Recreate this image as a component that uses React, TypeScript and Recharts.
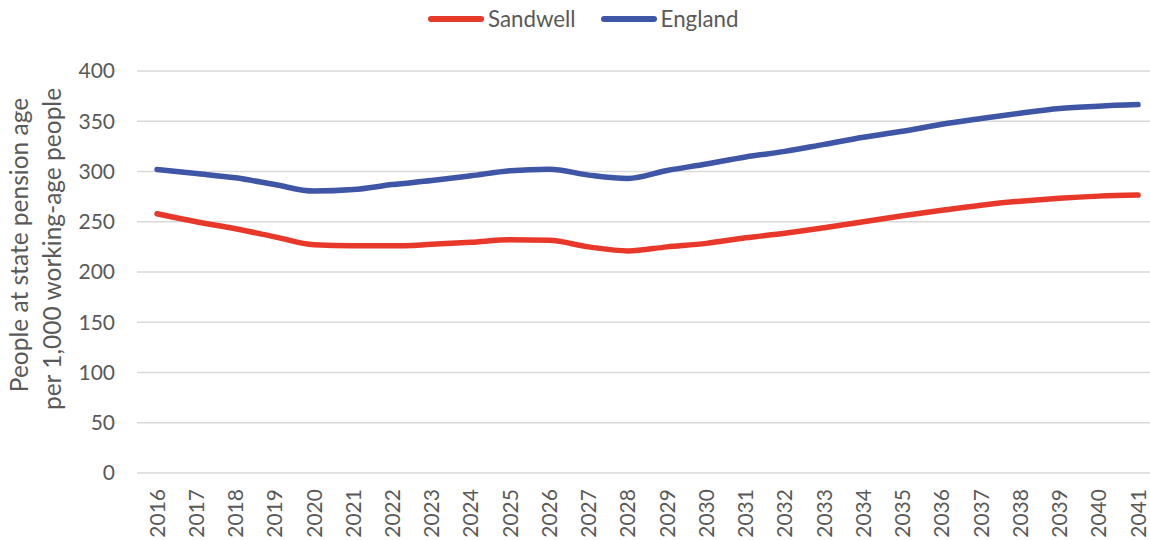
import { LineChart, Line, CartesianGrid, XAxis, YAxis } from "recharts"

const years = [
  "2016", "2017", "2018", "2019", "2020", "2021", "2022", "2023", "2024",
  "2025", "2026", "2027", "2028", "2029", "2030", "2031", "2032", "2033",
  "2034", "2035", "2036", "2037", "2038", "2039", "2040", "2041",
]
const sandwell = [
  258, 250, 243, 235, 227, 226, 226, 227.5, 229.5, 232, 231.5, 225, 221, 225,
  228.5, 234, 238.5, 244, 250, 256, 261.5, 266.5, 270.5, 273.5, 275.5, 276.5,
]
const england = [
  302, 298, 293.7, 287, 280.5, 282, 287, 291, 295.7, 300.7, 302.3, 296.4, 293,
  301, 307.5, 314.5, 320, 327, 334, 340, 347, 352.7, 358, 362.6, 365, 366.6,
]
const yTicks = [0, 50, 100, 150, 200, 250, 300, 350, 400]

const series = [
  { key: "Sandwell", color: "#E8382A", values: sandwell },
  { key: "England", color: "#3F55A5", values: england },
]

const data = years.map((year, i) => ({
  year,
  Sandwell: sandwell[i],
  England: england[i],
}))

const FONT = "Lato, 'Open Sans', sans-serif"
const TEXT = "#595959"

function YearTick(props: any) {
  const { x, y, payload } = props
  return (
    <text
      x={x}
      y={y}
      dy="0.36em"
      textAnchor="end"
      transform={`rotate(-90, ${x}, ${y})`}
      fill={TEXT}
      fontSize={21}
      fontFamily={FONT}
    >
      {payload.value}
    </text>
  )
}

function YTitle() {
  return (
    <text
      transform="rotate(-90, 0, 0)"
      fill={TEXT}
      fontSize={24.5}
      fontFamily={FONT}
      textAnchor="middle"
    >
      <tspan x={-245} y={28}>People at state pension age</tspan>
      <tspan x={-249} y={61}>per 1,000 working-age people</tspan>
    </text>
  )
}

export default function App() {
  return (
    <div
      style={{
        position: "absolute",
        left: 0,
        top: 0,
        width: 1150,
        height: 540,
        overflow: "hidden",
        background: "#fff",
        fontFamily: FONT,
      }}
    >
      <div
        style={{
          position: "absolute",
          left: 428,
          top: 5,
          display: "flex",
          alignItems: "center",
          color: TEXT,
          fontSize: 22.3,
          lineHeight: "28px",
        }}
      >
        {series.map((s, i) => (
          <div
            key={s.key}
            style={{ display: "flex", alignItems: "center", marginLeft: i ? 25 : 0 }}
          >
            <span
              style={{
                display: "inline-block",
                width: 56,
                height: 6,
                borderRadius: 3,
                background: s.color,
                marginRight: 4,
              }}
            />
            <span>{s.key}</span>
          </div>
        ))}
      </div>
      <LineChart
        width={1150}
        height={540}
        data={data}
        margin={{ top: 71, right: 0, bottom: 0, left: 0 }}
      >
        <CartesianGrid vertical={false} stroke="#D9D9D9" strokeWidth={1.5} />
        <XAxis
          dataKey="year"
          interval={0}
          height={67}
          padding={{ left: 20, right: 12 }}
          axisLine={false}
          tickLine={false}
          tickSize={0}
          tickMargin={16}
          tick={<YearTick />}
        />
        <YAxis
          width={137}
          domain={[0, 400]}
          ticks={yTicks}
          axisLine={false}
          tickLine={false}
          tickSize={0}
          tickMargin={22}
          tick={{ fill: TEXT, fontSize: 21, fontFamily: FONT }}
          label={{ content: () => <YTitle /> }}
        />
        {series.map((s) => (
          <Line
            key={s.key}
            dataKey={s.key}
            type="monotone"
            stroke={s.color}
            strokeWidth={5.5}
            strokeLinecap="round"
            dot={false}
            activeDot={false}
            isAnimationActive={false}
          />
        ))}
      </LineChart>
    </div>
  )
}
